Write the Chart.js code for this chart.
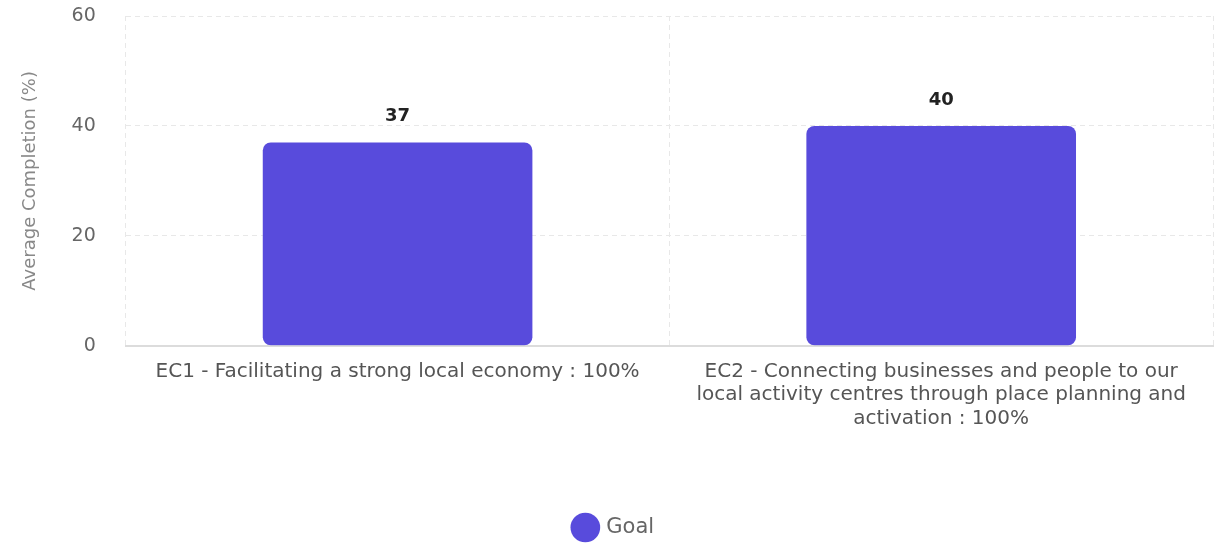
<!DOCTYPE html>
<html>
<head>
<meta charset="utf-8">
<script src="https://cdn.jsdelivr.net/npm/chart.js@4.4.7/dist/chart.umd.min.js"></script>
<style>
  html, body { margin: 0; padding: 0; background: #fff; }
  #wrap { width: 1227px; height: 550px; position: relative; }
</style>
</head>
<body>
<div id="wrap"><canvas id="chart"></canvas></div>
<script>
const categories = [
  'EC1 - Facilitating a strong local economy : 100%',
  'EC2 - Connecting businesses and people to our local activity centres through place planning and activation : 100%'
];
const goalValues = [37, 40];
const yTicks = [0, 20, 40, 60];

// split a long label into lines of at most maxChars characters
function wrap(text, maxChars) {
  const words = text.split(' ');
  const lines = [];
  let line = '';
  words.forEach(w => {
    const next = line ? line + ' ' + w : w;
    if (next.length > maxChars && line) {
      lines.push(line);
      line = w;
    } else {
      line = next;
    }
  });
  if (line) lines.push(line);
  return lines;
}

const valueLabels = {
  id: 'valueLabels',
  afterDatasetsDraw(chart) {
    const ctx = chart.ctx;
    ctx.save();
    ctx.font = 'bold 18px "DejaVu Sans", sans-serif';
    ctx.fillStyle = '#222';
    ctx.textAlign = 'center';
    ctx.textBaseline = 'middle';
    chart.getDatasetMeta(0).data.forEach((bar, i) => {
      ctx.fillText(goalValues[i], bar.x, bar.y - 26);
    });
    ctx.restore();
  }
};

new Chart(document.getElementById('chart'), {
  type: 'bar',
  data: {
    labels: categories.map(c => wrap(c, 49)),
    datasets: [{
      label: 'Goal',
      data: goalValues,
      backgroundColor: '#584bdc',
      borderRadius: 8,
      borderSkipped: false,
      barPercentage: 0.62,
      categoryPercentage: 0.8
    }]
  },
  options: {
    responsive: true,
    maintainAspectRatio: false,
    animation: false,
    layout: { padding: { top: 0, right: 14, left: 16, bottom: 2 } },
    plugins: {
      legend: {
        position: 'bottom',
        title: { display: true, text: ' ', padding: 26 },
        labels: {
          usePointStyle: true,
          pointStyle: 'circle',
          color: '#666',
          font: { family: 'DejaVu Sans', size: 21 },
          padding: 6
        }
      },
      tooltip: { enabled: false }
    },
    scales: {
      x: {
        grid: { color: '#e8e8e8', drawTicks: false },
        border: { display: true, color: '#dcdcdc', width: 2, dash: [5, 4] },
        ticks: {
          color: '#555',
          font: { family: 'DejaVu Sans', size: 20, lineHeight: 1.18 },
          padding: 14,
          maxRotation: 0,
          autoSkip: false
        }
      },
      y: {
        min: 0,
        max: 60,
        afterBuildTicks(scale) {
          scale.ticks = yTicks.map(v => ({ value: v }));
        },
        afterFit(scale) {
          // keep the wide label gap from pushing the plot down
          scale.paddingTop = 16;
        },
        grid: { color: '#e8e8e8', drawTicks: false },
        border: { display: false, dash: [5, 4] },
        ticks: {
          color: '#666',
          font: { family: 'DejaVu Sans', size: 19 },
          padding: 30
        },
        title: {
          display: true,
          text: 'Average Completion (%)',
          color: '#888',
          font: { family: 'DejaVu Sans', size: 18 },
          padding: { bottom: 0 }
        }
      }
    }
  },
  plugins: [valueLabels]
});
</script>
</body>
</html>
